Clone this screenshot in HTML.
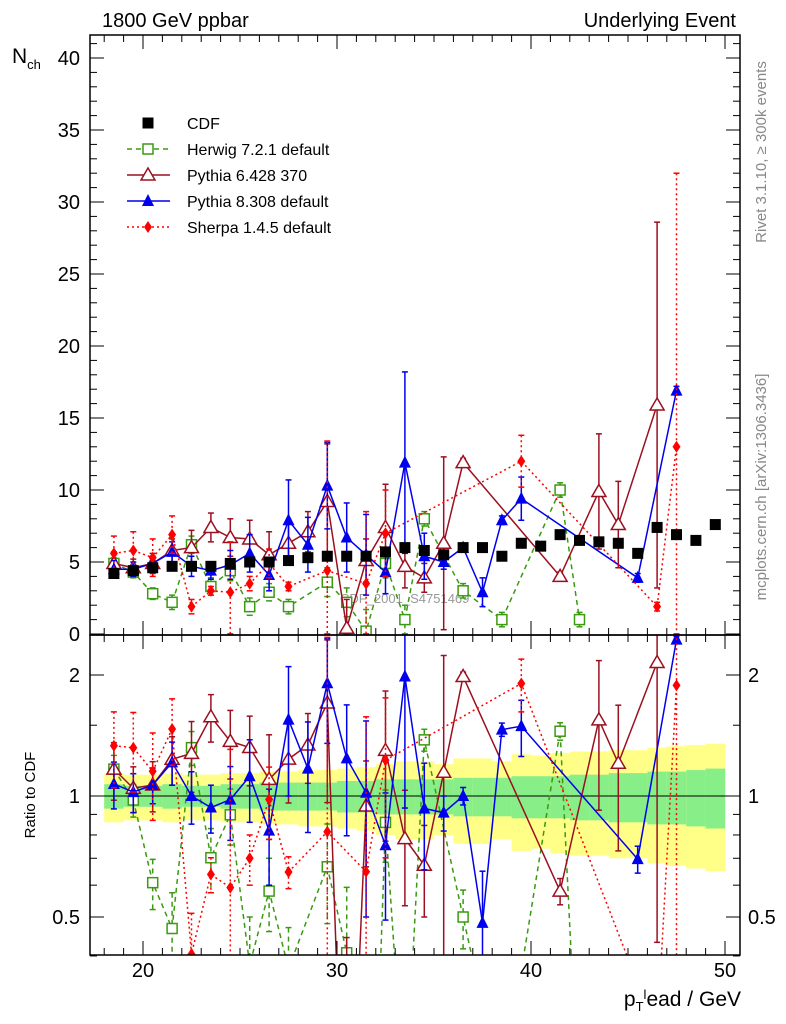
<!DOCTYPE html>
<html><head><meta charset="utf-8"><style>
html,body{margin:0;background:#fff;width:786px;height:1024px;overflow:hidden;}
svg{display:block;font-family:"Liberation Sans",sans-serif;}
</style></head><body>
<svg id="c" width="786" height="1024" xmlns="http://www.w3.org/2000/svg">
<text x="102" y="27" font-size="20">1800 GeV ppbar</text>
<text x="736" y="27" font-size="20" text-anchor="end">Underlying Event</text>
<text x="12" y="63" font-size="21">N<tspan font-size="13" dy="6">ch</tspan></text>
<text transform="translate(35,795) rotate(-90)" font-size="15" text-anchor="middle">Ratio to CDF</text>
<text x="741" y="1006" font-size="21" text-anchor="end">p<tspan font-size="13" dy="5">T</tspan><tspan font-size="13" dy="-12">l</tspan><tspan dy="7">ead / GeV</tspan></text>
<text transform="translate(766,152) rotate(-90)" font-size="15" fill="#888" text-anchor="middle">Rivet 3.1.10, ≥ 300k events</text>
<text transform="translate(766,487) rotate(-90)" font-size="15" fill="#888" text-anchor="middle">mcplots.cern.ch [arXiv:1306.3436]</text>
</svg>
<script>
const bins=[18.5,19.5,20.5,21.5,22.5,23.5,24.5,25.5,26.5,27.5,28.5,29.5,30.5,31.5,32.5,33.5,34.5,35.5,36.5,37.5,38.5,39.5,40.5,41.5,42.5,43.5,44.5,45.5,46.5,47.5,48.5,49.5];
const cdf=[4.2,4.4,4.6,4.7,4.7,4.7,4.9,5.0,5.0,5.1,5.3,5.4,5.4,5.4,5.7,6.0,5.8,5.5,6.0,6.0,5.4,6.3,6.1,6.9,6.5,6.4,6.3,5.6,7.4,6.9,6.5,7.6];
const cdfStat=[0.07,0.06,0.06,0.07,0.06,0.06,0.07,0.07,0.08,0.08,0.08,0.08,0.09,0.09,0.1,0.1,0.1,0.1,0.11,0.11,0.11,0.12,0.12,0.12,0.13,0.13,0.14,0.14,0.15,0.15,0.16,0.17];
const cdfTot=[0.14,0.13,0.13,0.14,0.13,0.13,0.14,0.14,0.15,0.15,0.16,0.16,0.17,0.18,0.2,0.22,0.22,0.2,0.24,0.24,0.22,0.27,0.26,0.28,0.29,0.29,0.3,0.3,0.32,0.33,0.34,0.35];
const herwig=[4.9,4.3,2.8,2.2,6.2,3.3,4.4,1.9,2.9,1.9,null,3.6,2.2,0.2,4.9,1.0,8.0,null,3.0,null,1.0,null,null,10.0,1.0,null,null,null,null,null,null,null];
const herwigErr=[0.4,0.4,0.4,0.5,0.6,0.6,0.7,0.6,0.6,0.5,0,1.0,1.0,1.5,1.0,1.0,0.5,0,0.5,0,0.5,0,0,0.5,0.5,0,0,0,0,0,0,0];
const py6=[4.9,4.6,4.9,5.8,6.0,7.4,6.7,6.6,5.5,6.3,7.1,9.2,0.4,5.1,7.4,4.7,3.9,6.3,11.9,null,null,null,null,4.0,null,9.9,7.6,null,15.9,null,null,null];
const py6Err=[0.8,0.6,0.7,0.8,1.2,1.0,1.3,1.3,1.6,1.4,1.4,4.0,2.0,1.5,3.0,1.5,1.0,6.0,0.3,0,0,0,0,0.3,0,4.0,3.0,0,12.7,0,0,0];
const py8=[4.5,4.5,4.9,5.7,4.7,4.4,4.8,5.6,4.1,7.9,6.2,10.3,6.7,5.5,4.3,11.9,5.4,5.0,6.0,2.9,7.9,9.4,null,null,null,null,null,3.9,null,16.9,null,null];
const py8Err=[0.6,0.5,0.5,0.7,0.7,0.6,1.0,1.3,1.1,2.8,1.9,3.0,2.4,2.8,1.5,6.3,1.6,0.5,0.3,1.0,0.3,1.5,0,0,0,0,0,0.3,0,0.3,0,0];
const sherpa=[5.6,5.8,5.3,6.9,1.9,3.0,2.9,3.5,4.9,3.3,null,4.4,null,3.5,7.0,null,null,null,null,null,null,12.0,null,null,null,null,null,null,1.9,13.0,null,null];
const sherpaErr=[1.2,1.3,1.3,1.3,0.5,0.3,3.5,0.5,1.0,0.3,0,9.0,0,5.0,3.0,0,0,0,0,0,0,1.8,0,0,0,0,0,0,0.3,19.0,0,0];
const mainTicks=[0,5,10,15,20,25,30,35,40];
const xTicks=[20,30,40,50];
const ratioTicks=[0.5,1,2];

const NS="http://www.w3.org/2000/svg";
const svg=document.getElementById('c');
const L=90,R=740,T=35,MB=635,RB=955;
const X=v=>143+(v-20)*19.4;
const Ym=v=>634-v*14.4;
const Yr=v=>796-Math.log2(v)*121;
function el(tag,attrs,parent){const e=document.createElementNS(NS,tag);for(const k in attrs)e.setAttribute(k,attrs[k]);(parent||svg).appendChild(e);return e;}
const defs=el('defs',{});
const cp1=el('clipPath',{id:'cm'},defs);el('rect',{x:L,y:T,width:R-L,height:MB-T},cp1);
const cp2=el('clipPath',{id:'cr'},defs);el('rect',{x:L,y:MB,width:R-L,height:RB-MB},cp2);
const gm=el('g',{'clip-path':'url(#cm)'});


const gr=el('g',{'clip-path':'url(#cr)'});



bins.forEach((b,i)=>{
  const x0=X(b-0.5),w=19.6;
  const y1=el('rect',{x:x0,y:Yr(1+cdfTot[i]),width:w,height:Yr(Math.max(1-cdfTot[i],0.3))-Yr(1+cdfTot[i]),fill:'#ffff88'},gr);
  
  
  const g1=el('rect',{x:x0,y:Yr(1+cdfStat[i]),width:w,height:Yr(1-cdfStat[i])-Yr(1+cdfStat[i]),fill:'#88ee88'},gr);
  
  
});
el('line',{x1:L,x2:R,y1:Yr(1),y2:Yr(1),stroke:'#000','stroke-width':1},gr);

const wm=el('text',{x:340,y:603,'font-size':13,fill:'#999'},gm);wm.textContent='CDF_2001_S4751469';



function marker(g,type,x,y,col){
  let m;
  if(type==='sq')m=el('rect',{x:x-5,y:y-5,width:10,height:10,fill:'#fff',stroke:col,'stroke-width':1.5},g);
  else if(type==='fsq')m=el('rect',{x:x-5.5,y:y-5.5,width:11,height:11,fill:col},g);
  else if(type==='otri')m=el('polygon',{points:`${x},${y-7} ${x-7},${y+5} ${x+7},${y+5}`,fill:'#fff',stroke:col,'stroke-width':1.5},g);
  else if(type==='tri')m=el('polygon',{points:`${x},${y-7} ${x-6},${y+5} ${x+6},${y+5}`,fill:col},g);
  else m=el('polygon',{points:`${x},${y-6} ${x-4},${y} ${x},${y+6} ${x+4},${y}`,fill:col},g);
  
  
  return m;
}
function series(vals,errs,col,type,dash,name){
  [[gm,v=>v,Ym],[gr,(v,i)=>v/cdf[i],Yr]].forEach(([g,f,Y])=>{
    const sg=el('g',{},g);
    
    
    const pts=[];
    vals.forEach((v,i)=>{if(v!==null){const vv=Math.max(f(v,i),0.01);pts.push([X(bins[i]),Y(vv),i,vv]);}});
    const pl=el('polyline',{points:pts.map(p=>p[0]+','+p[1]).join(' '),fill:'none',stroke:col,'stroke-width':1.5,'stroke-dasharray':dash},sg);
    
    
    pts.forEach(p=>{
      const i=p[2],e=errs[i]/(Y===Yr?cdf[i]:1);
      if(e>0){
        const lo=Math.max(p[3]-e,0.01),hi=p[3]+e;
        el('line',{x1:p[0],x2:p[0],y1:Y(hi),y2:Y(lo),stroke:col,'stroke-width':1.5,'stroke-dasharray':dash},sg);
        el('line',{x1:p[0]-3,x2:p[0]+3,y1:Y(hi),y2:Y(hi),stroke:col,'stroke-width':1.5},sg);
        el('line',{x1:p[0]-3,x2:p[0]+3,y1:Y(lo),y2:Y(lo),stroke:col,'stroke-width':1.5},sg);
      }
      marker(sg,type,p[0],p[1],col);
    });
  });
}
series(herwig,herwigErr,'#3a9a10','sq','5,4','herwig-series');
series(py6,py6Err,'#9b1020','otri','','pythia6-series');
series(py8,py8Err,'#0000ee','tri','','pythia8-series');
series(sherpa,sherpaErr,'#ff0000','dia','2,3','sherpa-series');
bins.forEach((b,i)=>{const m=marker(gm,'fsq',X(b),Ym(cdf[i]),'#000');});

[[T,MB],[MB,RB]].forEach(([a,b])=>el('rect',{x:L,y:a,width:R-L,height:b-a,fill:'none',stroke:'#000','stroke-width':1.5}));
for(let v=18;v<=50;v++){
  const x=X(v),big=v%10===0,len=big?14:7;
  [MB,RB].forEach(yb=>{
    el('line',{x1:x,x2:x,y1:yb,y2:yb-len,stroke:'#000'});
    el('line',{x1:x,x2:x,y1:(yb===MB?T:MB),y2:(yb===MB?T:MB)+len,stroke:'#000'});
  });
}
xTicks.forEach(v=>{const t=el('text',{x:X(v),y:977,'font-size':20,'text-anchor':'middle'});t.textContent=v;});
for(let v=0;v<=41;v++){const y=Ym(v),len=v%5===0?14:7;el('line',{x1:L,x2:L+len,y1:y,y2:y,stroke:'#000'});el('line',{x1:R,x2:R-len,y1:y,y2:y,stroke:'#000'});}
mainTicks.forEach(v=>{const t=el('text',{x:80,y:Ym(v)+7,'font-size':20,'text-anchor':'end'});t.textContent=v;});
[0.4,0.5,0.6,0.7,0.8,0.9,1,2,1.5].forEach(v=>{const y=Yr(v),len=(v===0.5||v===1||v===2)?14:7;el('line',{x1:L,x2:L+len,y1:y,y2:y,stroke:'#000'});el('line',{x1:R,x2:R-len,y1:y,y2:y,stroke:'#000'});});
ratioTicks.forEach(v=>{
  const t=el('text',{x:80,y:Yr(v)+7,'font-size':20,'text-anchor':'end'});t.textContent=v;
  const t2=el('text',{x:748,y:Yr(v)+7,'font-size':20});t2.textContent=v;
});

const lg=el('g',{});


const legNames=['CDF','Herwig 7.2.1 default','Pythia 6.428 370','Pythia 8.308 default','Sherpa 1.4.5 default'];
const legStyle=[['fsq','#000',null],['sq','#3a9a10','5,4'],['otri','#9b1020',''],['tri','#0000ee',''],['dia','#ff0000','2,3']];
legNames.forEach((n,i)=>{
  const y=123+i*26;
  const eg=el('g',{},lg);
  
  
  const [tp,col,dash]=legStyle[i];
  if(dash!==null)el('line',{x1:127,x2:170,y1:y,y2:y,stroke:col,'stroke-width':1.5,'stroke-dasharray':dash},eg);
  marker(eg,tp,148,y,col);
  const t=el('text',{x:187,y:y+6,'font-size':16},eg);t.textContent=n;
});
</script>
</body></html>
